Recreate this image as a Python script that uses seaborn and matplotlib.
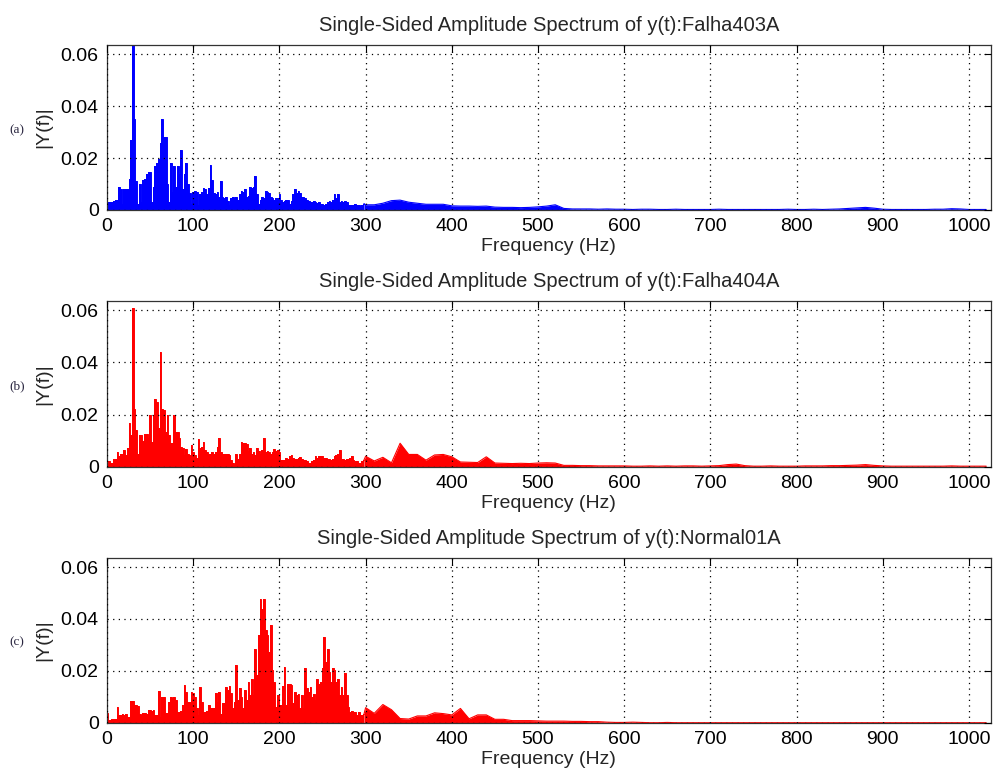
import matplotlib
matplotlib.use('Agg')
import matplotlib.pyplot as plt
import pandas as pd
import seaborn as sns

# frequency grid: 2 Hz steps up to 300 Hz, then 10 Hz steps to Fs/2
freq_low = list(range(0, 300, 2))
freq_high = list(range(300, 1030, 10))

# |Y(f)|, Falha403A
a_low = [
    0.0030, 0.0032, 0.0030, 0.0032, 0.0035, 0.0040, 0.0040, 0.0090, 0.0080, 0.0025,
    0.0080, 0.0082, 0.0080, 0.0120, 0.0270, 0.0636, 0.0350, 0.0110, 0.0025, 0.0100,
    0.0030, 0.0115, 0.0120, 0.0140, 0.0145, 0.0145, 0.0030, 0.0090, 0.0170, 0.0180,
    0.0195, 0.0260, 0.0350, 0.0280, 0.0280, 0.0100, 0.0030, 0.0180, 0.0070, 0.0170,
    0.0090, 0.0170, 0.0140, 0.0230, 0.0080, 0.0140, 0.0180, 0.0100, 0.0065, 0.0025,
    0.0070, 0.0075, 0.0070, 0.0020, 0.0060, 0.0070, 0.0085, 0.0080, 0.0060, 0.0085,
    0.0175, 0.0115, 0.0065, 0.0060, 0.0070, 0.0050, 0.0110, 0.0050, 0.0045, 0.0050,
    0.0035, 0.0020, 0.0045, 0.0050, 0.0045, 0.0050, 0.0040, 0.0060, 0.0075, 0.0070,
    0.0080, 0.0050, 0.0055, 0.0090, 0.0085, 0.0090, 0.0130, 0.0060, 0.0025, 0.0040,
    0.0050, 0.0045, 0.0075, 0.0070, 0.0065, 0.0050, 0.0045, 0.0040, 0.0045, 0.0045,
    0.0060, 0.0040, 0.0032, 0.0035, 0.0040, 0.0040, 0.0025, 0.0035, 0.0060, 0.0080,
    0.0065, 0.0075, 0.0065, 0.0050, 0.0050, 0.0045, 0.0040, 0.0035, 0.0030, 0.0030,
    0.0035, 0.0030, 0.0028, 0.0030, 0.0025, 0.0025, 0.0020, 0.0025, 0.0030, 0.0035,
    0.0030, 0.0040, 0.0060, 0.0045, 0.0060, 0.0030, 0.0035, 0.0030, 0.0035, 0.0030,
    0.0020, 0.0020, 0.0018, 0.0020, 0.0022, 0.0020, 0.0018, 0.0015, 0.0020, 0.0025,
]
a_high = [
    0.0020, 0.0020, 0.0026, 0.0036, 0.0038, 0.0030, 0.0026, 0.0022, 0.0022, 0.0022,
    0.0016, 0.0015, 0.0015, 0.0014, 0.0015, 0.0011, 0.0010, 0.0010, 0.0009, 0.0010,
    0.0012, 0.0015, 0.0020, 0.0006, 0.0004, 0.0004, 0.0004, 0.0003, 0.0004, 0.0003,
    0.0003, 0.0002, 0.0003, 0.0003, 0.0002, 0.0002, 0.0003, 0.0002, 0.0002, 0.0002,
    0.0002, 0.0003, 0.0002, 0.0002, 0.0002, 0.0002, 0.0002, 0.0002, 0.0002, 0.0003,
    0.0002, 0.0002, 0.0003, 0.0002, 0.0003, 0.0004, 0.0006, 0.0008, 0.0010, 0.0007,
    0.0003, 0.0002, 0.0002, 0.0002, 0.0002, 0.0002, 0.0003, 0.0003, 0.0005, 0.0004,
    0.0002, 0.0002, 0.0002,
]

# Falha404A
b_low = [
    0.0023, 0.0022, 0.0013, 0.0013, 0.0030, 0.0030, 0.0055, 0.0040, 0.0047, 0.0047,
    0.0064, 0.0045, 0.0073, 0.0166, 0.0120, 0.0610, 0.0223, 0.0140, 0.0050, 0.0120,
    0.0120, 0.0100, 0.0124, 0.0124, 0.0110, 0.0200, 0.0095, 0.0200, 0.0260, 0.0250,
    0.0150, 0.0440, 0.0220, 0.0217, 0.0135, 0.0200, 0.0120, 0.0090, 0.0090, 0.0200,
    0.0135, 0.0135, 0.0110, 0.0077, 0.0070, 0.0045, 0.0066, 0.0050, 0.0045, 0.0083,
    0.0058, 0.0045, 0.0032, 0.0105, 0.0070, 0.0075, 0.0096, 0.0064, 0.0058, 0.0050,
    0.0050, 0.0055, 0.0050, 0.0058, 0.0077, 0.0110, 0.0058, 0.0050, 0.0050, 0.0048,
    0.0050, 0.0045, 0.0025, 0.0015, 0.0006, 0.0050, 0.0030, 0.0050, 0.0096, 0.0090,
    0.0090, 0.0088, 0.0060, 0.0070, 0.0050, 0.0055, 0.0045, 0.0070, 0.0060, 0.0050,
    0.0065, 0.0110, 0.0058, 0.0060, 0.0058, 0.0050, 0.0058, 0.0068, 0.0060, 0.0064,
    0.0058, 0.0025, 0.0025, 0.0025, 0.0035, 0.0030, 0.0040, 0.0045, 0.0035, 0.0030,
    0.0030, 0.0035, 0.0038, 0.0030, 0.0025, 0.0025, 0.0020, 0.0015, 0.0013, 0.0020,
    0.0025, 0.0040, 0.0035, 0.0040, 0.0042, 0.0040, 0.0035, 0.0035, 0.0030, 0.0028,
    0.0025, 0.0030, 0.0040, 0.0045, 0.0050, 0.0064, 0.0030, 0.0028, 0.0025, 0.0030,
    0.0030, 0.0035, 0.0040, 0.0025, 0.0020, 0.0020, 0.0015, 0.0013, 0.0020, 0.0025,
]
b_high = [
    0.0040, 0.0022, 0.0036, 0.0015, 0.0090, 0.0047, 0.0047, 0.0025, 0.0045, 0.0047,
    0.0038, 0.0018, 0.0017, 0.0016, 0.0038, 0.0014, 0.0013, 0.0012, 0.0013, 0.0012,
    0.0014, 0.0015, 0.0014, 0.0005, 0.0005, 0.0004, 0.0004, 0.0003, 0.0003, 0.0003,
    0.0003, 0.0002, 0.0002, 0.0003, 0.0002, 0.0003, 0.0002, 0.0003, 0.0003, 0.0002,
    0.0003, 0.0004, 0.0008, 0.0010, 0.0004, 0.0002, 0.0002, 0.0003, 0.0002, 0.0002,
    0.0002, 0.0003, 0.0003, 0.0003, 0.0004, 0.0004, 0.0005, 0.0006, 0.0008, 0.0005,
    0.0003, 0.0002, 0.0002, 0.0002, 0.0002, 0.0002, 0.0002, 0.0002, 0.0003, 0.0002,
    0.0002, 0.0002, 0.0002,
]

# Normal01A
c_low = [
    0.0038, 0.0010, 0.0010, 0.0014, 0.0014, 0.0014, 0.0060, 0.0030, 0.0030, 0.0032,
    0.0030, 0.0032, 0.0023, 0.0023, 0.0085, 0.0085, 0.0070, 0.0070, 0.0065, 0.0032,
    0.0030, 0.0038, 0.0038, 0.0032, 0.0049, 0.0049, 0.0045, 0.0049, 0.0030, 0.0030,
    0.0122, 0.0023, 0.0100, 0.0100, 0.0036, 0.0036, 0.0080, 0.0100, 0.0095, 0.0100,
    0.0087, 0.0042, 0.0042, 0.0045, 0.0068, 0.0147, 0.0120, 0.0080, 0.0080, 0.0120,
    0.0113, 0.0100, 0.0055, 0.0030, 0.0138, 0.0080, 0.0042, 0.0042, 0.0045, 0.0068,
    0.0058, 0.0058, 0.0058, 0.0113, 0.0080, 0.0120, 0.0032, 0.0074, 0.0074, 0.0138,
    0.0125, 0.0140, 0.0113, 0.0055, 0.0080, 0.0224, 0.0087, 0.0132, 0.0100, 0.0055,
    0.0125, 0.0087, 0.0157, 0.0106, 0.0170, 0.0106, 0.0285, 0.0185, 0.0337, 0.0475,
    0.0440, 0.0475, 0.0356, 0.0337, 0.0273, 0.0378, 0.0202, 0.0157, 0.0060, 0.0106,
    0.0068, 0.0068, 0.0140, 0.0215, 0.0068, 0.0150, 0.0150, 0.0147, 0.0074, 0.0120,
    0.0106, 0.0110, 0.0055, 0.0106, 0.0055, 0.0211, 0.0132, 0.0120, 0.0138, 0.0100,
    0.0110, 0.0087, 0.0170, 0.0150, 0.0157, 0.0210, 0.0330, 0.0234, 0.0285, 0.0196,
    0.0157, 0.0211, 0.0202, 0.0157, 0.0170, 0.0106, 0.0138, 0.0106, 0.0190, 0.0106,
    0.0060, 0.0042, 0.0045, 0.0042, 0.0040, 0.0030, 0.0042, 0.0030, 0.0030, 0.0032,
]
c_high = [
    0.0058, 0.0036, 0.0070, 0.0050, 0.0016, 0.0014, 0.0026, 0.0026, 0.0038, 0.0035,
    0.0030, 0.0055, 0.0015, 0.0030, 0.0030, 0.0013, 0.0013, 0.0008, 0.0008, 0.0008,
    0.0007, 0.0006, 0.0006, 0.0006, 0.0005, 0.0005, 0.0004, 0.0004, 0.0002, 0.0001,
    0.0001, 0.0002, 0.0001, 0.0000, 0.0000, 0.0001, 0.0000, 0.0000, 0.0000, 0.0000,
    0.0000, 0.0000, 0.0000, 0.0000, 0.0000, 0.0000, 0.0000, 0.0000, 0.0000, 0.0000,
    0.0000, 0.0000, 0.0000, 0.0000, 0.0000, 0.0000, 0.0000, 0.0000, 0.0000, 0.0000,
    0.0000, 0.0000, 0.0000, 0.0000, 0.0000, 0.0000, 0.0000, 0.0000, 0.0000, 0.0000,
    0.0000, 0.0000, 0.0000,
]

signals = ['Falha403A', 'Falha404A', 'Normal01A']
tags = ['(a)', '(b)', '(c)']
colors = ['#0000ff', '#ff0000', '#ff0000']
lows = [a_low, b_low, c_low]
highs = [a_high, b_high, c_high]

xticks = list(range(0, 1001, 100))
yticks = [0, 0.02, 0.04, 0.06]
ytick_labels = ['0', '0.02', '0.04', '0.06']

sns.set_style('white')
plt.rcParams['font.family'] = ['Liberation Sans', 'DejaVu Sans']

fig = plt.figure(figsize=(9.93, 7.76), dpi=100)
# axes boxes in figure fractions (left, bottom, width, height)
boxes = [[0.1078, 0.7294, 0.8897, 0.2126],
         [0.1078, 0.3986, 0.8897, 0.2135],
         [0.1078, 0.0687, 0.8897, 0.2126]]

for i in range(3):
    ax = fig.add_axes(boxes[i])
    low = pd.DataFrame({'f': freq_low, 'amp': lows[i]})
    high = pd.DataFrame({'f': freq_low[-1:] + freq_high,
                         'amp': lows[i][-1:] + highs[i]})
    # dense part drawn as spikes, sparse tail as a plain trace
    ax.fill_between(low['f'], 0, low['amp'], step='mid', color=colors[i], lw=0)
    sns.lineplot(data=low, x='f', y='amp', drawstyle='steps-mid',
                 color=colors[i], lw=0.7, ax=ax)
    ax.fill_between(high['f'], 0, high['amp'], color=colors[i], lw=0)
    sns.lineplot(data=high, x='f', y='amp', color=colors[i], lw=0.8, ax=ax)

    ax.set_xlim(0, 1025)
    ax.set_ylim(0, 0.0636)
    ax.set_xticks(xticks)
    ax.set_yticks(yticks)
    ax.set_yticklabels(ytick_labels)
    ax.grid(True, linestyle=(0, (1, 3.5)), color='black', lw=0.9)
    ax.set_axisbelow(False)
    ax.tick_params(direction='in', top=True, right=True, length=5, width=0.8,
                   labelsize=14, pad=6, colors='black')
    for s in ax.spines.values():
        s.set_color('#333333')
        s.set_linewidth(0.9)

    ax.set_title('Single-Sided Amplitude Spectrum of y(t):' + signals[i],
                 fontsize=14.5, pad=10)
    ax.set_xlabel('Frequency (Hz)', fontsize=14, labelpad=2)
    ax.set_ylabel('|Y(f)|', fontsize=14, labelpad=6)
    ax.text(-0.102, 0.485, tags[i], transform=ax.transAxes, fontsize=9.5,
            family='Liberation Serif', color='#2a2640', ha='center', va='center')

plt.savefig('out.png', dpi=100)
